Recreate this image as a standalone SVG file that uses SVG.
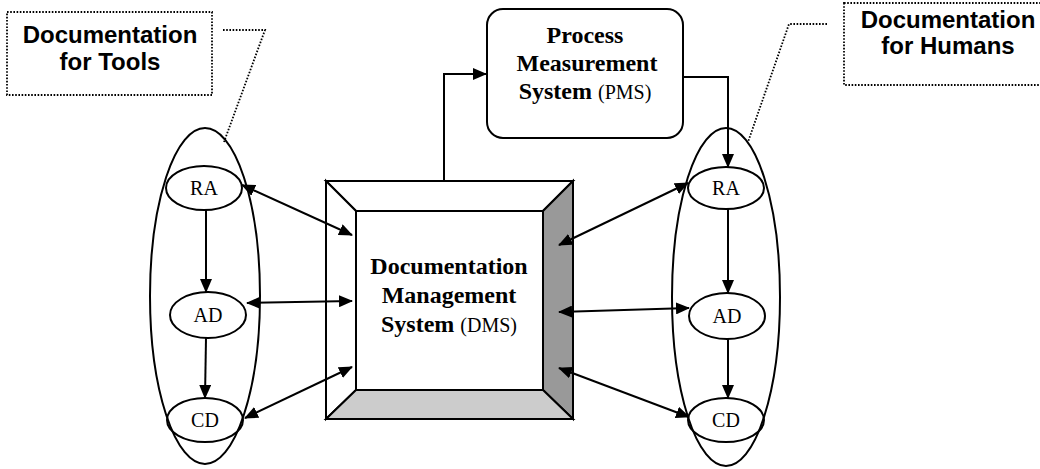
<svg xmlns="http://www.w3.org/2000/svg" width="1040" height="469" viewBox="0 0 1040 469">
<style>
.ln{stroke:#000;stroke-width:2;fill:none}
.dot{stroke:#000;stroke-width:1.8;stroke-dasharray:1.6 1.6;fill:none}
.pnl{stroke:#000;stroke-width:2;stroke-linejoin:miter}
.call{font-family:"Liberation Sans",Arial,sans-serif;font-weight:bold;font-size:24px;text-anchor:middle;fill:#000}
.bt{font-family:"Liberation Serif","Times New Roman",serif;font-weight:bold;font-size:24px;text-anchor:middle;fill:#000}
.ab{font-weight:normal;font-size:20px}
.el{font-family:"Liberation Serif","Times New Roman",serif;font-size:20px;text-anchor:middle;fill:#000}
</style>
<defs>
<marker id="ah" markerWidth="14" markerHeight="12" refX="13" refY="6" orient="auto-start-reverse" markerUnits="userSpaceOnUse">
<path d="M0,0 L14,6 L0,12 z" fill="#000"/>
</marker>
</defs>
<rect width="1040" height="469" fill="#fff"/>

<g id="callout-tools">
<rect class="dot" x="7" y="12" width="205" height="83"/>
<text class="call" x="110" y="43">Documentation</text>
<text class="call" x="110" y="70">for Tools</text>
</g>

<g id="callout-humans">
<rect class="dot" x="844" y="3" width="210" height="82"/>
<text class="call" x="948" y="28">Documentation</text>
<text class="call" x="948" y="54">for Humans</text>
</g>

<g id="pms">
<rect class="ln" x="487" y="9" width="196" height="129" rx="16"/>
<text class="bt" x="585" y="43">Process</text>
<text class="bt" x="587" y="71">Measurement</text>
<text class="bt" x="585" y="99">System <tspan class="ab">(PMS)</tspan></text>
</g>

<g id="dms">
<polygon class="pnl" fill="#fff" points="326,181 573,181 543,211 356,211"/>
<polygon class="pnl" fill="#fff" points="326,181 356,211 356,390 326,419"/>
<polygon class="pnl" fill="#999" points="573,181 573,419 543,390 543,211"/>
<polygon class="pnl" fill="#ccc" points="326,419 356,390 543,390 573,419"/>
<rect class="ln" x="356" y="211" width="187" height="179"/>
<text class="bt" x="449" y="274">Documentation</text>
<text class="bt" x="449" y="303">Management</text>
<text class="bt" x="449" y="332">System <tspan class="ab">(DMS)</tspan></text>
</g>

<g id="tools-group">
<ellipse class="ln" cx="205" cy="296" rx="55" ry="168"/>
</g>
<g id="tools-ra">
<ellipse class="ln" cx="204" cy="188" rx="38" ry="22"/>
<text class="el" x="204" y="195">RA</text>
</g>
<g id="tools-ad">
<ellipse class="ln" cx="208" cy="315" rx="38" ry="23"/>
<text class="el" x="208" y="322">AD</text>
</g>
<g id="tools-cd">
<ellipse class="ln" cx="205" cy="420" rx="38" ry="22"/>
<text class="el" x="205" y="427">CD</text>
</g>

<g id="humans-group">
<ellipse class="ln" cx="726" cy="297" rx="54" ry="169"/>
</g>
<g id="humans-ra">
<ellipse class="ln" cx="726" cy="188" rx="38" ry="21"/>
<text class="el" x="726" y="195">RA</text>
</g>
<g id="humans-ad">
<ellipse class="ln" cx="727" cy="316" rx="38" ry="23"/>
<text class="el" x="727" y="323">AD</text>
</g>
<g id="humans-cd">
<ellipse class="ln" cx="726" cy="420" rx="38" ry="22"/>
<text class="el" x="726" y="427">CD</text>
</g>

<g id="connectors">
<polyline class="dot" points="223,30 265,30 224,142"/>
<polyline class="dot" points="827,24 789,24 748,142"/>
<polyline class="ln" points="444,181 444,74 486,74" marker-end="url(#ah)"/>
<polyline class="ln" points="683,77 728,77 728,167" marker-end="url(#ah)"/>
<line class="ln" x1="206" y1="210" x2="206" y2="292" marker-end="url(#ah)"/>
<line class="ln" x1="206" y1="338" x2="205" y2="398" marker-end="url(#ah)"/>
<line class="ln" x1="728" y1="209" x2="728" y2="293" marker-end="url(#ah)"/>
<line class="ln" x1="728" y1="339" x2="728" y2="398" marker-end="url(#ah)"/>
<line class="ln" x1="242" y1="185" x2="352" y2="235" marker-start="url(#ah)" marker-end="url(#ah)"/>
<line class="ln" x1="247" y1="303" x2="352" y2="301" marker-start="url(#ah)" marker-end="url(#ah)"/>
<line class="ln" x1="245" y1="418" x2="352" y2="367" marker-start="url(#ah)" marker-end="url(#ah)"/>
<line class="ln" x1="559" y1="245" x2="688" y2="183" marker-start="url(#ah)" marker-end="url(#ah)"/>
<line class="ln" x1="559" y1="312" x2="689" y2="308" marker-start="url(#ah)" marker-end="url(#ah)"/>
<line class="ln" x1="559" y1="368" x2="689" y2="417" marker-start="url(#ah)" marker-end="url(#ah)"/>
</g>
</svg>
